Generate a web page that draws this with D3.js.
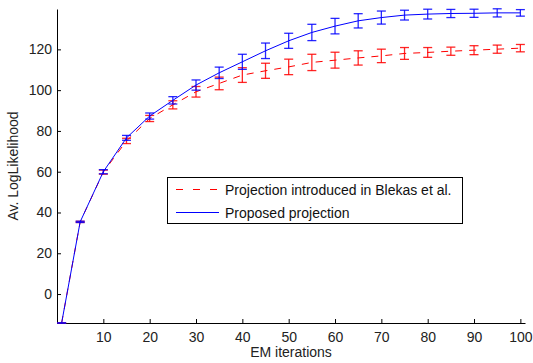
<!DOCTYPE html>
<html>
<head>
<meta charset="utf-8">
<script src="https://cdn.jsdelivr.net/npm/d3@7"></script>
<style>
  body { margin: 0; background: #fff; }
  svg { font-family: "Liberation Sans", Arial, sans-serif; }
</style>
</head>
<body>
<div id="chart"></div>
<script>
// data
var iterations = [1, 5, 10, 15, 20, 25, 30, 35, 40, 45, 50, 55, 60, 65, 70, 75, 80, 85, 90, 95, 100];
var blekasMean = [-14.2, 35.4, 59.8, 75.1, 86.1, 92.8, 99.2, 103.3, 107.4, 109.5, 111.4, 113.6, 114.7, 115.8, 116.8, 118, 118.5, 119.1, 119.6, 120.1, 120.6];
var blekasErr  = [0, 0.3, 1, 1.3, 1.5, 2, 2.6, 3.1, 3.6, 3.7, 3.8, 4, 3.9, 3.5, 3.3, 2.9, 2.4, 2, 2.2, 2, 1.8];
var proposedMean = [-14.2, 35.4, 60, 76.6, 87.3, 95, 102.5, 108.5, 113.9, 119.3, 124.2, 128.3, 131.4, 134, 135.6, 136.8, 137.3, 137.6, 137.7, 137.9, 137.9];
var proposedErr  = [0, 0.3, 1, 1.2, 1.5, 1.8, 2.5, 2.8, 3.7, 3.8, 3.7, 4, 3.8, 3.5, 3.2, 2.4, 2.4, 2, 2, 2, 1.6];
var xTicks = [10, 20, 30, 40, 50, 60, 70, 80, 90, 100];
var yTicks = [0, 20, 40, 60, 80, 100, 120];
var seriesNames = ["Projection introduced in Blekas et al.", "Proposed projection"];

var width = 533, height = 363;
var plotLeft = 57, plotRight = 525, plotTop = 9, plotBottom = 323;
var fontSize = 14;

var svg = d3.select('#chart').append('svg').attr('width', width).attr('height', height);

var x = d3.scaleLinear().domain([0, 101]).range([plotLeft, plotRight]);
var y = d3.scaleLinear().domain([-14.2, 139.8]).range([plotBottom, plotTop]);

// axes, ticks pointing inward like matlab
var xAxis = svg.append('g').attr('transform', 'translate(0,' + plotBottom + ')')
  .call(d3.axisBottom(x).tickValues(xTicks).tickSizeInner(-4).tickSizeOuter(0).tickPadding(9));
var yAxis = svg.append('g').attr('transform', 'translate(' + plotLeft + ',0)')
  .call(d3.axisLeft(y).tickValues(yTicks).tickSizeInner(-4).tickSizeOuter(0).tickPadding(5));
[xAxis, yAxis].forEach(function(a) {
  a.select('.domain').attr('stroke', '#000');
  a.selectAll('.tick line').attr('stroke', '#000');
  a.selectAll('.tick text').attr('font-size', fontSize).attr('fill', '#222').style('font-family', '"Liberation Sans", Arial, sans-serif');
});

svg.append('text').attr('x', (plotLeft + plotRight) / 2).attr('y', 357)
  .attr('text-anchor', 'middle').attr('font-size', fontSize).attr('fill', '#222').text('EM iterations');
svg.append('text').attr('transform', 'translate(18,' + (plotTop + plotBottom) / 2 + ') rotate(-90)')
  .attr('text-anchor', 'middle').attr('font-size', fontSize).attr('fill', '#222').text('Av. LogLikelihood');

function drawSeries(means, errs, color, dash) {
  var pts = iterations.map(function(d, i) { return { x: d, m: means[i], e: errs[i] }; });
  var line = d3.line().x(function(d) { return x(d.x); }).y(function(d) { return y(d.m); });
  svg.append('path').datum(pts).attr('d', line)
    .attr('fill', 'none').attr('stroke', color).attr('stroke-width', 1)
    .attr('stroke-dasharray', dash);
  var g = svg.append('g').attr('stroke', color).attr('stroke-width', 1.3).attr('stroke-opacity', 0.85);
  var cap = 4.5;
  g.selectAll('.bar').data(pts).enter().append('line')
    .attr('x1', function(d) { return x(d.x); }).attr('x2', function(d) { return x(d.x); })
    .attr('y1', function(d) { return y(d.m - d.e); }).attr('y2', function(d) { return y(d.m + d.e); });
  g.selectAll('.capTop').data(pts).enter().append('line')
    .attr('x1', function(d) { return x(d.x) - cap; }).attr('x2', function(d) { return x(d.x) + cap; })
    .attr('y1', function(d) { return y(d.m + d.e); }).attr('y2', function(d) { return y(d.m + d.e); });
  g.selectAll('.capBot').data(pts).enter().append('line')
    .attr('x1', function(d) { return x(d.x) - cap; }).attr('x2', function(d) { return x(d.x) + cap; })
    .attr('y1', function(d) { return y(d.m - d.e); }).attr('y2', function(d) { return y(d.m - d.e); });
}

drawSeries(blekasMean, blekasErr, '#ff0000', '7,7');
drawSeries(proposedMean, proposedErr, '#0000ff', null);

// legend
var legend = svg.append('g');
legend.append('rect').attr('x', 167.5).attr('y', 177.5).attr('width', 295).attr('height', 46)
  .attr('fill', '#fff').attr('stroke', '#000').attr('stroke-width', 1);
var colors = ['#ff0000', '#0000ff'], dashes = ['7,10', null];
seriesNames.forEach(function(name, i) {
  var ly = 189.5 + i * 23;
  legend.append('line').attr('x1', 176).attr('x2', 219).attr('y1', ly).attr('y2', ly)
    .attr('stroke', colors[i]).attr('stroke-width', 1).attr('stroke-dasharray', dashes[i]);
  legend.append('text').attr('x', 225).attr('y', ly + 5).attr('font-size', fontSize).attr('fill', '#111').text(name);
});
</script>
</body>
</html>
